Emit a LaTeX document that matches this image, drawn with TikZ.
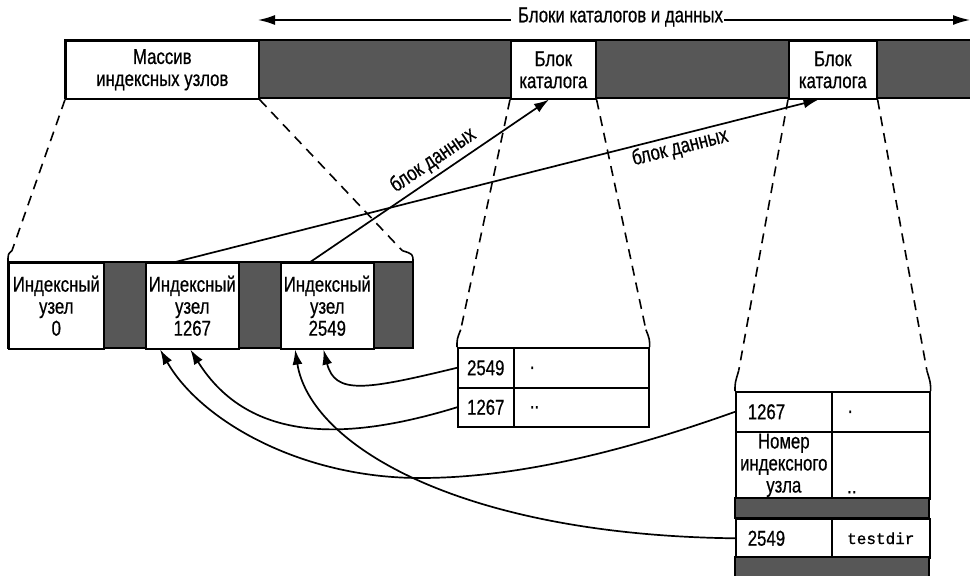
\documentclass[tikz,border=0pt]{standalone}
\usepackage{fontspec}
\setmainfont{Liberation Sans}[FakeStretch=0.78, FakeBold=0.6]
\setmonofont{Liberation Mono}[FakeBold=0.8]
\usetikzlibrary{arrows.meta, positioning, calc}

\tikzset{
  cell/.style={draw, line width=1.6pt, fill=white, inner sep=0pt, anchor=north west, align=center},
  lcell/.style={cell, align=left},
  shade/.style={draw, line width=1.6pt, fill=black!66},
  guide/.style={line width=1.6pt, dash pattern=on 10pt off 7pt},
  link/.style={line width=1.7pt, -{Latex[length=15pt, width=10pt]}},
}

\begin{document}
\begin{tikzpicture}[x=1pt, y=-1pt, font=\fontsize{21.5}{22}\selectfont]
    \useasboundingbox (0,0) rectangle (970,576);

    % blocks of the file system
    \draw[shade] (65,40) rectangle (975,98);
    \node[cell, minimum width=193pt, minimum height=58pt] (iarr) at (65,40) {Массив\\индексных узлов};
    \node[cell, minimum width=85pt, minimum height=58pt] (dblkA) at (510,40) {Блок\\каталога};
    \node[cell, minimum width=88pt, minimum height=58pt] (dblkB) at (788,40) {Блок\\каталога};

    \coordinate (spanL) at (258,20);
    \coordinate (spanR) at (970,20);
    \draw[line width=1.6pt, {Latex[length=17pt, width=10pt]}-{Latex[length=17pt, width=10pt]}] (spanL) -- node[pos=0.5, fill=white, inner ysep=1pt, inner xsep=1pt, xshift=3.5pt, yshift=3pt] {\hspace{6pt}Блоки каталогов и данных} (spanR);

    % inode array
    \draw[shade] (8,262) rectangle (413,348);
    \coordinate (inoR) at (413,262);
    \node[cell, minimum width=95pt, minimum height=86pt] (inoA) at (8,262) {Индексный\\узел\\0};
    \node[cell, minimum width=93pt, minimum height=86pt] (inoB) at (145,262) {Индексный\\узел\\1267};
    \node[cell, minimum width=93pt, minimum height=86pt] (inoC) at (280,262) {Индексный\\узел\\2549};

    % first directory block
    \node[cell, minimum width=56pt, minimum height=40pt] (d1num1) at (457,347) {2549};
    \node[lcell, inner xsep=16pt, text width=103pt, minimum height=40pt] (d1name1) at (513,347) {.};
    \node[cell, minimum width=56pt, minimum height=39pt] (d1num2) at (457,387) {1267};
    \node[lcell, inner xsep=16pt, text width=103pt, minimum height=39pt] (d1name2) at (513,387) {..};

    % second directory block
    \node[lcell, inner xsep=12pt, text width=72pt, minimum height=40pt] (d2num1) at (735,391) {1267};
    \node[lcell, inner xsep=16pt, text width=66pt, minimum height=40pt] (d2name1) at (831,391) {.};
    \node[cell, minimum width=96pt, minimum height=67pt] (d2num2) at (735,431) {Номер\\индексного\\узла};
    \node[cell, minimum width=98pt, minimum height=67pt] (d2name2) at (831,431) {};
    \node[anchor=south west, inner sep=0pt] (d2dots) at ($(d2name2.south west)+(16,-6)$) {..};
    \draw[shade] (735,498) rectangle (929,518);
    \node[lcell, inner xsep=12pt, text width=72pt, minimum height=39pt] (d2num3) at (735,518) {2549};
    \node[cell, minimum width=98pt, minimum height=39pt, font=\ttfamily\fontsize{16}{18}\selectfont] (d2name3) at (831,518) {testdir};
    \draw[shade] (735,557) rectangle (929,580);

    % zoom guides
    \foreach \a/\b in {iarr.south west/inoA.north west, iarr.south east/inoR,
                       dblkA.south west/d1num1.north west, dblkA.south east/d1name1.north east,
                       dblkB.south west/d2num1.north west, dblkB.south east/d2name1.north east}
    {
        \draw[guide] (\a) -- ($(\a)!0.93!(\b)$);
        \draw[line width=1.6pt] ($(\a)!0.93!(\b)$) .. controls ($(\b)+(0,-8)$) .. (\b);
    }

    % data blocks of the inodes
    \draw[link] ($(inoC.north west)!0.32!(inoC.north east)$) -- node[sloped, above, pos=0.55, inner sep=4pt] {блок данных} ($(dblkA.south west)!0.45!(dblkA.south east)$);
    \draw[link] ($(inoB.north west)!0.32!(inoB.north east)$) -- node[sloped, below, pos=0.78, inner sep=2pt] {блок данных} ($(dblkB.south west)!0.34!(dblkB.south east)$);

    % entries back to the inodes
    \draw[link] (d1num1.west) .. controls (365,390) and (335,395) .. ($(inoC.south west)!0.46!(inoC.south east)$);
    \draw[link] (d1num2.west) .. controls (350,440) and (250,445) .. ($(inoB.south west)!0.48!(inoB.south east)$);
    \draw[link] (d2num1.west) .. controls (600,460) and (500,478) .. (420,478) .. controls (300,478) and (200,420) .. ($(inoB.south west)!0.16!(inoB.south east)$);
    \draw[link] (d2num3.west) .. controls (460,535) and (310,445) .. ($(inoC.south west)!0.16!(inoC.south east)$);
\end{tikzpicture}
\end{document}
